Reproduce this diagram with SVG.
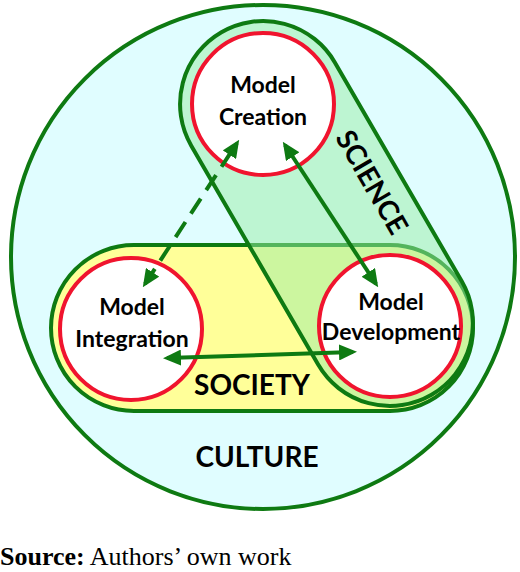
<svg xmlns="http://www.w3.org/2000/svg" width="520" height="572" viewBox="0 0 520 572">
<style>
.g{stroke:#0e7a12;stroke-width:4;}
.node{fill:#ffffff;stroke:#f0142e;stroke-width:4;}
.lbl{font-family:Lato,"Open Sans",sans-serif;font-weight:bold;font-size:23px;fill:#000;text-anchor:middle;}
.big{font-family:Lato,"Open Sans",sans-serif;font-weight:bold;font-size:28px;fill:#000;text-anchor:middle;}
.conn{fill:none;stroke:#0e7a12;stroke-width:4;}
</style>
<defs>
<marker id="ah" markerUnits="userSpaceOnUse" markerWidth="18" markerHeight="16" refX="14" refY="8" orient="auto-start-reverse" viewBox="0 0 18 16">
<path d="M0,0 L18,8 L0,16 z" fill="#0e7a12"/>
</marker>
</defs>
<rect width="520" height="572" fill="#ffffff"/>
<g id="culture">
<circle cx="263" cy="257" r="252" fill="#e0fdff" class="g"/>
<text class="big" x="257" y="467">CULTURE</text>
</g>
<g id="society">
<rect x="51" y="245" width="422" height="166" rx="83" fill="#ffff99" class="g"/>
<text class="big" x="252" y="395">SOCIETY</text>
</g>
<g id="science">
<rect x="117" y="130.5" width="419" height="166" rx="83" fill="#9aeea6" fill-opacity="0.5" class="g" transform="rotate(59.9 326.5 213.5)"/>
<text class="big" transform="translate(372 182) rotate(60)" x="0" y="10">SCIENCE</text>
</g>
<g id="creation">
<circle cx="263" cy="104" r="71" class="node"/>
<text class="lbl" x="263" y="93">Model</text>
<text class="lbl" x="263" y="125">Creation</text>
</g>
<g id="integration">
<circle cx="131" cy="329" r="71" class="node"/>
<text class="lbl" x="132" y="315">Model</text>
<text class="lbl" x="132" y="347">Integration</text>
</g>
<g id="development">
<circle cx="390" cy="326" r="71" class="node"/>
<text class="lbl" x="391" y="310">Model</text>
<text class="lbl" x="391" y="340">Development</text>
</g>
<g id="connectors">
<line class="conn" x1="145" y1="284" x2="237" y2="143" stroke-dasharray="18 10" marker-start="url(#ah)" marker-end="url(#ah)"/>
<line class="conn" x1="285" y1="145" x2="376" y2="284" marker-start="url(#ah)" marker-end="url(#ah)"/>
<line class="conn" x1="167" y1="358" x2="353" y2="352" marker-start="url(#ah)" marker-end="url(#ah)"/>
</g>
<g id="source">
<text x="0" y="565" font-family="'Liberation Serif',serif" font-size="26" fill="#000"><tspan font-weight="bold">Source:</tspan> Authors’ own work</text>
</g>
</svg>
